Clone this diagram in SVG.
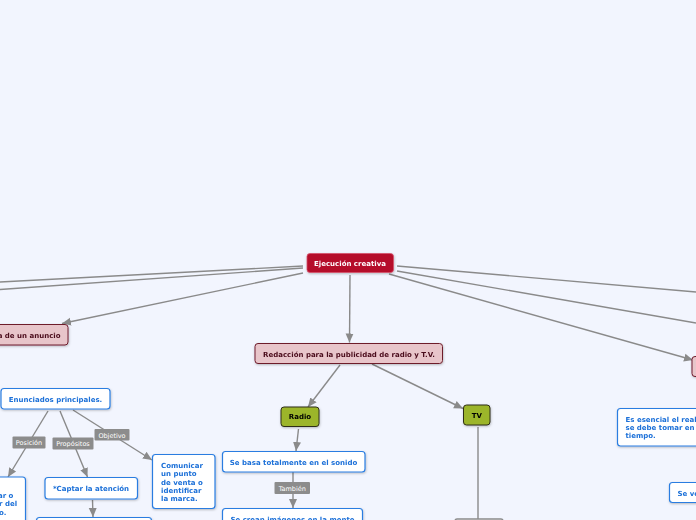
<svg xmlns="http://www.w3.org/2000/svg" width="696" height="520" viewBox="0 0 696 520">
<defs>
<marker id="arr" markerUnits="userSpaceOnUse" markerWidth="10" markerHeight="10" viewBox="0 0 10 10" refX="9" refY="5" orient="auto">
<path d="M0,1 L9,5 L0,9 z" fill="#8a8a8a"/>
</marker>
<filter id="sh" x="-10%" y="-10%" width="130%" height="140%">
<feDropShadow dx="0.5" dy="1" stdDeviation="0.8" flood-color="#000" flood-opacity="0.25"/>
</filter>
</defs>
<style>
.bg{fill:#f2f5fe}
.ln{stroke:#8a8a8a;stroke-width:1.4;fill:none}
.la{marker-end:url(#arr)}
.main rect{fill:#b5092b;stroke:#d5546c;stroke-width:0.8}
.main text{fill:#fff}
.pink rect{fill:#e8c5ca;stroke:#6e1c2c;stroke-width:1}
.pink text{fill:#4a0a1a}
.green rect{fill:#9cb52c;stroke:#2e2e14;stroke-width:1}
.green text{fill:#000}
.blue rect{fill:#fff;stroke:#2a7de1;stroke-width:1.2}
.blue text{fill:#1a6fd8}
.grey rect{fill:#fff;stroke:#8a8a8a;stroke-width:1.4}
text{font-family:"DejaVu Sans",Verdana,sans-serif;font-size:7px;font-weight:bold}
.c{text-anchor:middle}
.e{text-anchor:end}
.lbl rect{fill:#8c8c8c}
.lbl text{fill:#fff;font-weight:normal;font-size:6.5px;text-anchor:middle}
</style>
<rect class="bg" x="0" y="0" width="696" height="520"/>
<g id="connectors">
<line class="ln" x1="303" y1="266" x2="0" y2="282"/>
<line class="ln" x1="303" y1="268" x2="0" y2="289.5"/>
<line class="ln la" x1="303" y1="273" x2="62" y2="323.5"/>
<line class="ln la" x1="350" y1="275" x2="349.5" y2="342.5"/>
<line class="ln" x1="397" y1="266" x2="696" y2="292"/>
<line class="ln" x1="397" y1="271" x2="696" y2="323"/>
<line class="ln la" x1="389" y1="274" x2="693" y2="360"/>
<line class="ln la" x1="340" y1="365" x2="308" y2="407"/>
<line class="ln la" x1="372" y1="364" x2="463" y2="408.5"/>
<line class="ln la" x1="298.5" y1="429" x2="296" y2="451"/>
<line class="ln" x1="478" y1="427" x2="478" y2="519"/>
<line class="ln la" x1="293" y1="472" x2="293" y2="508"/>
<line class="ln la" x1="48" y1="411" x2="8" y2="477"/>
<line class="ln la" x1="60" y1="411" x2="87.5" y2="477"/>
<line class="ln la" x1="73" y1="410" x2="152" y2="460"/>
<line class="ln la" x1="92.5" y1="500" x2="93" y2="517"/>
<g class="lbl">
<rect x="12.5" y="436.5" width="33" height="12" rx="1"/><text x="29" y="445">Posición</text>
<rect x="52.5" y="437.5" width="41" height="12" rx="1"/><text x="73" y="446">Propósitos</text>
<rect x="94.5" y="429" width="35" height="11.5" rx="1"/><text x="112" y="437.5">Objetivo</text>
<rect x="274.5" y="482" width="35.5" height="12" rx="1"/><text x="292.3" y="490.5">También</text>
</g>
</g>
<g id="n-ejecucion" class="main" filter="url(#sh)">
<rect x="307" y="253.5" width="86.5" height="19" rx="3"/>
<text class="c" x="350" y="265.5">Ejecución creativa</text>
</g>
<g id="n-anuncio" class="pink" filter="url(#sh)">
<rect x="-5" y="324.5" width="73" height="20.5" rx="3"/>
<text class="e" x="60.5" y="338">a de un anuncio</text>
</g>
<g id="n-redaccion" class="pink" filter="url(#sh)">
<rect x="255" y="343.5" width="187.5" height="20" rx="3"/>
<text class="c" x="349" y="356.5">Redacción para la publicidad de radio y T.V.</text>
</g>
<g id="n-right" class="pink" filter="url(#sh)">
<rect x="692" y="356.5" width="20" height="20" rx="3"/>
</g>
<g id="n-radio" class="green" filter="url(#sh)">
<rect x="281" y="407" width="38" height="19.5" rx="3"/>
<text class="c" x="300" y="419">Radio</text>
</g>
<g id="n-tv" class="green" filter="url(#sh)">
<rect x="463.5" y="405" width="26.5" height="20" rx="3"/>
<text class="c" x="476.8" y="418">TV</text>
</g>
<g id="n-tvchild" class="grey">
<rect x="455" y="519" width="48" height="20" rx="2"/>
</g>
<g id="n-enunciados" class="blue" filter="url(#sh)">
<rect x="1" y="388.5" width="109" height="20.5" rx="3"/>
<text class="c" x="55.5" y="401.5">Enunciados principales.</text>
</g>
<g id="n-posicion" class="blue" filter="url(#sh)">
<rect x="-10" y="477" width="35.5" height="60" rx="3"/>
<text x="-2" y="497.5">ar o</text>
<text x="-1" y="506">r del</text>
<text x="-1" y="514.5">o.</text>
</g>
<g id="n-captar" class="blue" filter="url(#sh)">
<rect x="45" y="477.5" width="92.5" height="21.5" rx="3"/>
<text class="c" x="91" y="491">*Captar la atención</text>
</g>
<g id="n-captar-child" class="blue" filter="url(#sh)">
<rect x="36.5" y="517.5" width="115" height="20" rx="3"/>
</g>
<g id="n-comunicar" class="blue" filter="url(#sh)">
<rect x="152.5" y="454.5" width="62.5" height="54" rx="3"/>
<text x="161" y="467.5">Comunicar</text>
<text x="161" y="476">un punto</text>
<text x="161" y="484.5">de venta o</text>
<text x="161" y="492.8">identificar</text>
<text x="161" y="501.2">la marca.</text>
</g>
<g id="n-sebasa" class="blue" filter="url(#sh)">
<rect x="222.5" y="451.5" width="142.5" height="20.5" rx="3"/>
<text class="c" x="293.5" y="464.5">Se basa totalmente en el sonido</text>
</g>
<g id="n-secrean" class="blue" filter="url(#sh)">
<rect x="222.5" y="508.5" width="140" height="30" rx="3"/>
<text class="c" x="292.5" y="521.5">Se crean imágenes en la mente</text>
</g>
<g id="n-esencial" class="blue" filter="url(#sh)">
<rect x="617.5" y="408.5" width="100" height="37.5" rx="3"/>
<text x="625.5" y="421.5">Es esencial el real</text>
<text x="625.5" y="430">se debe tomar en</text>
<text x="625.5" y="438.3">tiempo.</text>
</g>
<g id="n-seve" class="blue" filter="url(#sh)">
<rect x="669.5" y="482.5" width="40" height="20" rx="3"/>
<text x="677.5" y="495.5">Se ve</text>
</g>
</svg>
